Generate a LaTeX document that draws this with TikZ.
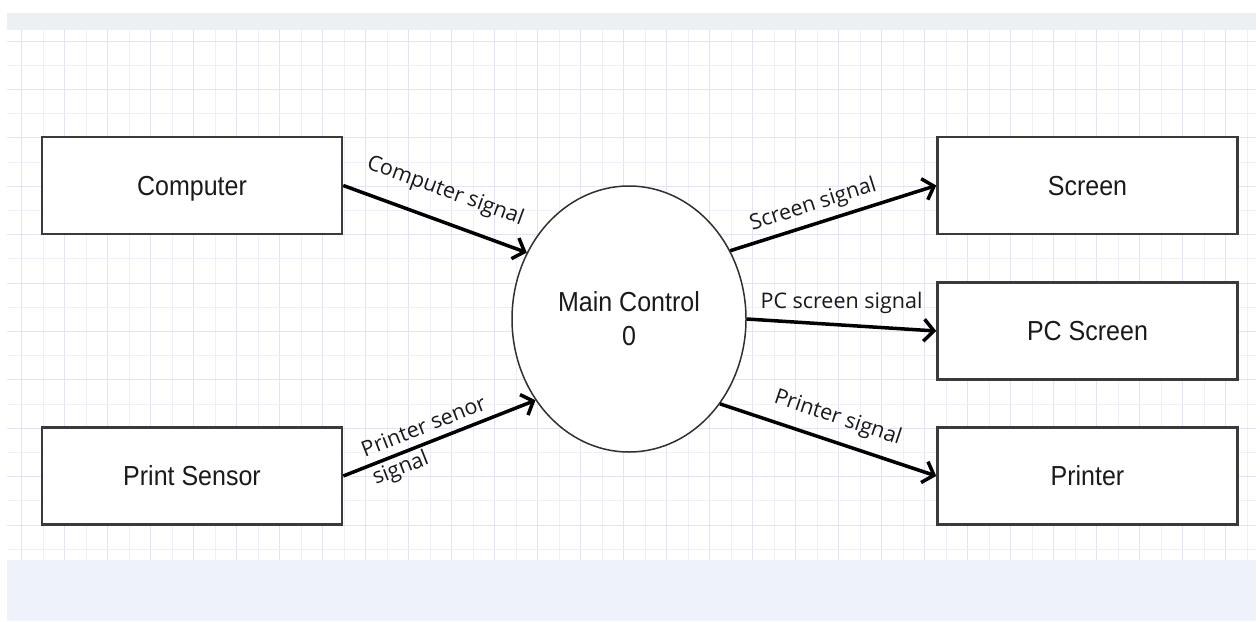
\documentclass[tikz,border=0pt]{standalone}
\usepackage{fontspec}
\setmainfont{Liberation Sans}
\newfontfamily\lblfont{Open Sans}
\usetikzlibrary{arrows.meta,shapes.geometric}
\definecolor{boxgray}{HTML}{3A3A3A}
\definecolor{ellgray}{HTML}{303030}
\definecolor{topband}{HTML}{ECF0F4}
\definecolor{botband}{HTML}{EEF2FA}
\definecolor{gridA}{HTML}{E3E3F3}
\definecolor{gridB}{HTML}{EFEFF8}
\definecolor{txt}{HTML}{1A1A1A}
\newcommand{\tallt}[1]{\scalebox{1}[1.1]{#1}}
\begin{document}
\begin{tikzpicture}[x=1pt,y=-1pt,
  box/.style={draw=boxgray, line width=2.5pt, fill=white, minimum width=300pt, minimum height=97pt, inner sep=0pt, text=txt, text height=19.7pt, text depth=0pt, font=\fontsize{25}{30}\selectfont},
  proc/.style={draw=ellgray, line width=1.5pt, fill=white, ellipse, minimum width=234pt, minimum height=266pt, inner sep=0pt, align=center, text=txt, font=\fontsize{25}{34}\selectfont},
  flow/.style={line width=3.5pt, -{Straight Barb[length=10pt,width=22pt]}},
  lbl/.style={font=\lblfont\fontsize{21.5}{30}\selectfont, inner sep=0pt, text=txt}
]
\useasboundingbox (0,0) rectangle (1260,621);
\fill[white] (0,0) rectangle (1260,621);
\fill[topband] (7,13) rectangle (1256,30);
\fill[botband] (7,560) rectangle (1256,621);
% grid
\foreach \k in {1,...,58} {
  \pgfmathsetmacro\xx{21.5*\k}
  \ifodd\k
    \draw[gridA, line width=1pt] (\xx,30) -- (\xx,560);
  \else
    \draw[gridB, line width=1pt] (\xx,30) -- (\xx,560);
  \fi
}
\foreach \j in {0,...,21} {
  \pgfmathsetmacro\yy{41+24.2*\j}
  \ifodd\j
    \draw[gridB, line width=1pt] (7,\yy) -- (1256,\yy);
  \else
    \draw[gridA, line width=1pt] (7,\yy) -- (1256,\yy);
  \fi
}
% nodes
\node[box] (comp) at (192,185.5) {\tallt{Computer}};
\node[box] (psens) at (192,476) {\tallt{Print Sensor}};
\node[box] (scr) at (1087.5,185.5) {\tallt{Screen}};
\node[box] (pcs) at (1087.5,331) {\tallt{PC Screen}};
\node[box] (prt) at (1087.5,476) {\tallt{Printer}};
\node[proc] (main) at (629,319) {\tallt{Main Control}\\\tallt{0}};
% flows
\draw[flow] (comp.east) -- node[lbl, pos=0.5, sloped, above=17pt] {Computer signal} (main.147);
\draw[flow] (psens.east) -- node[lbl, pos=0.45, sloped, align=left] {Printer senor\\signal} (main.221);
\draw[flow] (main.34) -- node[lbl, pos=0.43, sloped, above=6pt] {Screen signal} (scr.west);
\draw[flow] (main.0) -- node[lbl, pos=0.5, above=10pt] {PC screen signal} (pcs.west);
\draw[flow] (main.-43) -- node[lbl, pos=0.51, sloped, above=11pt] {Printer signal} (prt.west);
\end{tikzpicture}
\end{document}
